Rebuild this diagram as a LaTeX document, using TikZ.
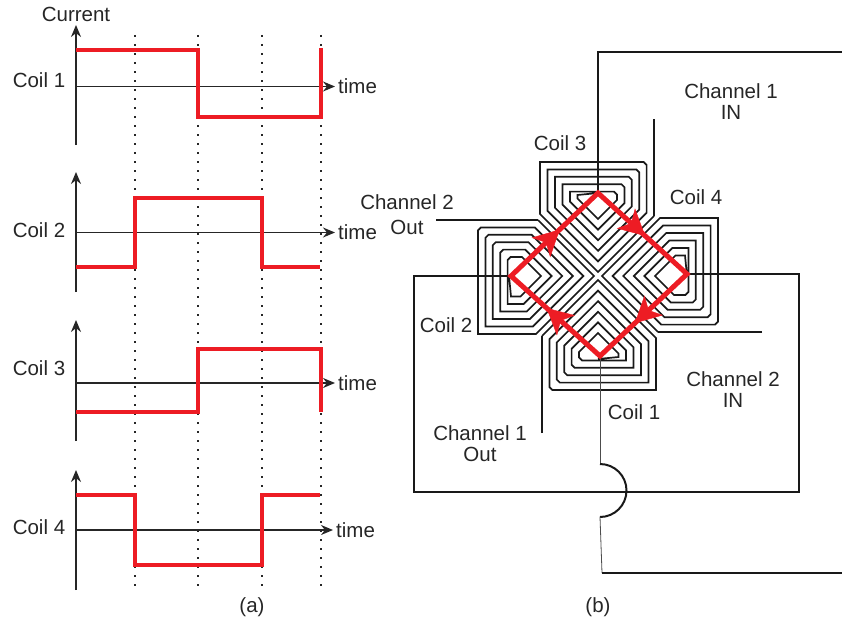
\documentclass[tikz,border=0pt]{standalone}
\usepackage{fontspec}
\setmainfont{Liberation Sans}
\usepackage{xcolor}
\usepackage{tikz}
\usetikzlibrary{positioning}
\usetikzlibrary{arrows.meta, decorations.markings}
\definecolor{coilred}{HTML}{ED1C24}
\tikzstyle{lbl} = [font=\fontsize{20.5}{21}\selectfont,inner sep=0pt,align=center,text=black!85]
\tikzstyle{axis} = [line width=1.5pt,black!85,-{Stealth[length=12pt,width=10pt]}]
\tikzstyle{grid} = [line width=1.8pt,black!85,dash pattern=on 2pt off 7pt]
\tikzstyle{signal} = [line width=4.5pt,coilred,miter limit=4]
\tikzstyle{wire} = [line width=1.7pt,black!90]
\tikzstyle{thinwire} = [line width=0.8pt,black!70]
\tikzset{midarrow/.style={decoration={markings,mark=at position #1 with {\arrow{Stealth[length=26pt,width=27pt,inset=7pt,coilred]}}},postaction={decorate}}}

\begin{document}
\begin{tikzpicture}[x=1pt,y=-1pt,
	declare function={rgt(\k)=56-7.4*\k; lft(\k)=-58+7.5*\k; roof(\k,\r)=-\r+7.4*\k; apx(\k)=-4-10.6*\k;}]
	\useasboundingbox (0,0) rectangle (842,626);

	%Grid
	\foreach \gx in {135,198,262,321}
		\draw[grid] (\gx,35) -- (\gx,590);

	%Axes
	\foreach \n/\ytop/\yzero/\yend/\xend in {1/25/86.5/145/335, 2/172/232.5/292/335, 3/320/383/441/335, 4/470/530/590/333} {
		\coordinate (Base\n) at (76,\yend);
		\coordinate (Peak\n) at (76,\ytop);
		\coordinate (Zero\n) at (76,\yzero);
		\coordinate (Tip\n) at (\xend,\yzero);
		\draw[axis] (Base\n) -- (Peak\n);
		\draw[axis] (Zero\n) -- (Tip\n);
		\node [lbl,right=3pt of Tip\n] (time\n) {time};
	}
	\node [lbl] (current) at (76,14) {Current};
	\node [lbl] (label1) at (39,80) {Coil 1};
	\node [lbl] (label2) at (39,230) {Coil 2};
	\node [lbl] (label3) at (39,368) {Coil 3};
	\node [lbl] (label4) at (39,527) {Coil 4};

	%Signals
	\draw[signal] (76,50) -- (198,50) -- (198,117) -- (321,117) -- (321,48);
	\draw[signal] (76,267) -- (135,267) -- (135,198) -- (262,198) -- (262,267) -- (320,267);
	\draw[signal] (76,412) -- (198,412) -- (198,349) -- (321,349) -- (321,412);
	\draw[signal] (76,495) -- (135,495) -- (135,565) -- (262,565) -- (262,495) -- (320,495);

	%Coils
	\foreach \ang/\r/\name in {0/114/CoilC, 90/120/CoilD, 180/114/CoilA, 270/120/CoilB} {
		\begin{scope}[shift={(598,276)},rotate=-\ang]
			\coordinate (\name out) at (56,-60);
			\coordinate (\name in) at (0,{-\r+31});
			\draw[wire] (\name out)
				\foreach \k in {0,...,4} {
					-- (0,{apx(\k)})
					-- ({lft(\k)},{apx(\k)+lft(\k)})
					-- ({lft(\k)},{roof(\k,\r)})
					-- ({rgt(\k+1)-3},{roof(\k,\r)})
					-- ({rgt(\k+1)},{roof(\k,\r)+3})
					-- ({rgt(\k+1)},{apx(\k+1)-rgt(\k+1)})
				}
				-- (0,{apx(5)})
				-- ({lft(5)},{apx(5)+lft(5)})
				-- ({lft(5)},{-\r+33})
				-- (\name in);
		\end{scope}
	}

	%Nodes
	\coordinate (top) at (598,193);
	\coordinate (east) at (687,274);
	\coordinate (bot) at (600,356);
	\coordinate (west) at (511,276);
	\coordinate (AIn) at (654,119);
	\coordinate (AOut) at (542,433);
	\coordinate (BIn) at (762,332);
	\coordinate (BOut) at (436,220);
	\node [lbl] (coil3) at (560,143) {Coil 3};
	\node [lbl] (coil4) at (696,197) {Coil 4};
	\node [lbl] (coil2) at (446,325) {Coil 2};
	\node [lbl] (coil1) at (634,412) {Coil 1};
	\node [lbl] (chA) at (731,102) {Channel 1\\IN};
	\node [lbl] (chB) at (733,390) {Channel 2\\IN};
	\node [lbl] (chAo) at (480,444) {Channel 1\\Out};
	\node [lbl] (chBo) at (407,215) {Channel 2\\[4pt]Out};
	\node [lbl] (suba) at (252,607) {(a)};
	\node [lbl] (subb) at (598,607) {(b)};

	%Lines
	\draw[wire] (AIn) -- (CoilCout);
	\draw[wire] (AOut) -- (CoilAout);
	\draw[wire] (BIn) -- (CoilDout);
	\draw[wire] (BOut) -- (CoilBout);
	\draw[wire] (top) -- (598,52) -- (842,52);
	\draw[wire] (east) -- (799,274) -- (799,492) -- (414,492) -- (414,276) -- (west);
	\draw[thinwire] (bot) -- (600,464);
	\draw[line width=2pt,black!90] (600,464) arc[start angle=90,end angle=-90,radius=26.5pt];
	\draw[thinwire] (600,517) -- (602,573);
	\draw[wire] (602,573) -- (842,573);

	%Loop
	\draw[signal,line width=5pt] (top) -- (east) -- (bot) -- (west) -- cycle;
	\foreach \a/\b/\pos in {west/top/0.56,top/east/0.53,east/bot/0.6,bot/west/0.6}
		\path[midarrow=\pos] (\a) -- (\b);
\end{tikzpicture}
\end{document}
